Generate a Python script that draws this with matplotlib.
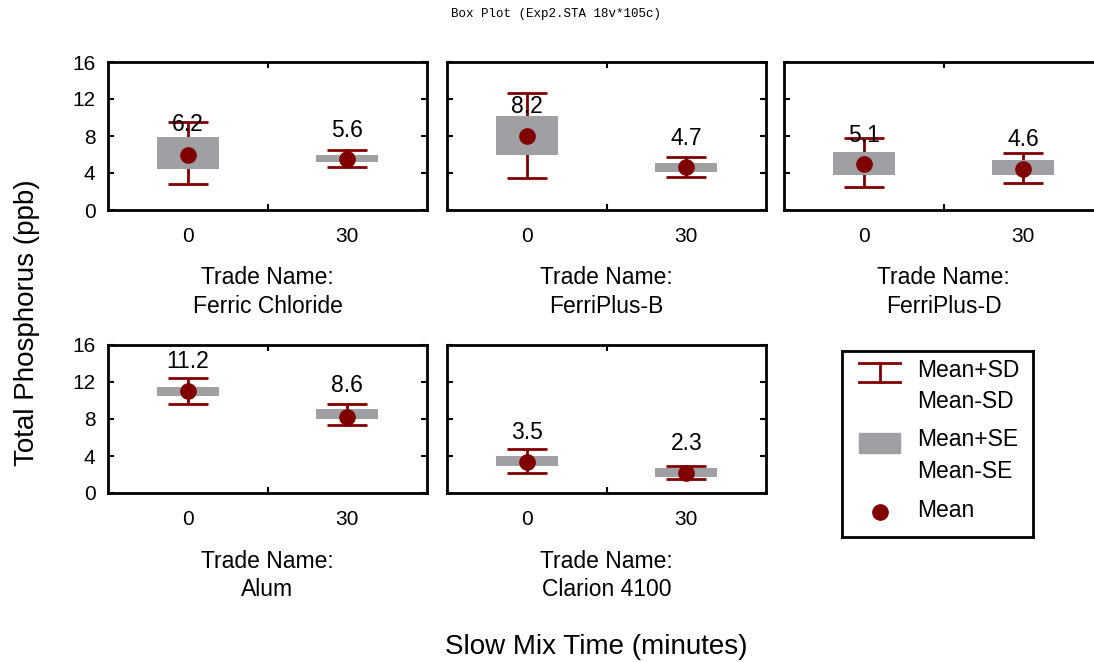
import matplotlib
matplotlib.use('Agg')
import matplotlib.pyplot as plt
from matplotlib.patches import Rectangle
from matplotlib.lines import Line2D

plt.rcParams['font.family'] = ['Liberation Sans', 'DejaVu Sans']

## data: one entry per trade name, [0 min, 30 min]
trade_names = ['Ferric Chloride', 'FerriPlus-B', 'FerriPlus-D', 'Alum', 'Clarion 4100']
mix_times = ['0', '30']
mean = [[6.0, 5.5], [8.0, 4.6], [4.95, 4.4], [11.0, 8.2], [3.3, 2.2]]
se_lo = [[4.4, 5.15], [6.0, 4.1], [3.75, 3.75], [10.45, 7.95], [2.9, 1.75]]
se_hi = [[7.85, 5.95], [10.15, 5.1], [6.25, 5.4], [11.5, 9.05], [4.0, 2.65]]
sd_lo = [[2.8, 4.6], [3.5, 3.55], [2.5, 2.9], [9.65, 7.35], [2.15, 1.55]]
sd_hi = [[9.55, 6.5], [12.7, 5.75], [7.75, 6.15], [12.45, 9.6], [4.8, 2.9]]
value_labels = [[6.2, 5.6], [8.2, 4.7], [5.1, 4.6], [11.2, 8.6], [3.5, 2.3]]
y_ticks = [0, 4, 8, 12, 16]

red = '#800000'
grey = '#a0a0a4'

W, H = 1094, 662
fig = plt.figure(figsize=(W / 100, H / 100), dpi=100)

# panel positions in pixels (left, top); only the first column gets y labels
panel_px = [(108, 62), (447, 62), (784, 62), (108, 345), (447, 345)]
first_col = [True, False, False, True, False]
pw, ph = 319, 148

for i, name in enumerate(trade_names):
    left, top = panel_px[i]
    ax = fig.add_axes([left / W, 1 - (top + ph) / H, pw / W, ph / H])
    xs = range(len(mix_times))
    m = mean[i]
    yerr = [[m[j] - sd_lo[i][j] for j in xs], [sd_hi[i][j] - m[j] for j in xs]]
    ax.errorbar(xs, m, yerr=yerr, fmt='none', ecolor=red, elinewidth=2,
                capsize=14.4, capthick=2, zorder=1)
    ax.bar(xs, [se_hi[i][j] - se_lo[i][j] for j in xs], bottom=se_lo[i],
           width=0.39, color=grey, zorder=2)
    ax.plot(xs, m, 'o', color=red, markersize=11, zorder=3)
    for j in xs:
        ax.text(j, value_labels[i][j] + 3, '%.1f' % value_labels[i][j],
                ha='center', va='center', fontsize=16.5, zorder=4)
    ax.set_xlim(-0.5, 1.5)
    ax.set_ylim(0, 16)
    ax.set_yticks(y_ticks)
    ax.set_xticks(list(xs))
    ax.set_xticklabels(mix_times)
    ax.set_xticks([0.5], minor=True)
    ax.tick_params(axis='x', which='major', length=0, pad=12, labelsize=15)
    ax.tick_params(axis='x', which='minor', direction='in', length=4, width=1.5,
                   top=True, bottom=True)
    ax.tick_params(axis='y', direction='in', length=4, width=1.5, left=True,
                   right=True, pad=9, labelsize=15, labelleft=first_col[i])
    for s in ax.spines.values():
        s.set_linewidth(2)
    ax.set_xlabel('Trade Name:\n' + name, fontsize=16.5, labelpad=15,
                  linespacing=1.3)

# legend panel
lg = fig.add_axes([842 / W, 1 - 537 / H, 191 / W, 186 / H])
lg.set_xlim(0, 1)
lg.set_ylim(0, 1)
lg.set_xticks([])
lg.set_yticks([])
for s in lg.spines.values():
    s.set_linewidth(2)
lg.add_line(Line2D([0.089, 0.304], [0.934, 0.934], color=red, lw=2))
lg.add_line(Line2D([0.089, 0.304], [0.835, 0.835], color=red, lw=2))
lg.add_line(Line2D([0.199, 0.199], [0.835, 0.934], color=red, lw=2))
lg.add_patch(Rectangle((0.089, 0.453), 0.215, 0.108, color=grey))
lg.plot([0.199], [0.133], 'o', color=red, markersize=11)
leg_texts = [('Mean+SD', 0.894), ('Mean-SD', 0.727), ('Mean+SE', 0.522),
             ('Mean-SE', 0.351), ('Mean', 0.141)]
for t, yy in leg_texts:
    lg.text(0.393, yy, t, ha='left', va='center', fontsize=16.5)

fig.text(556 / W, 1 - 14 / H, 'Box Plot (Exp2.STA 18v*105c)',
         family='Liberation Mono', fontsize=9, ha='center', va='center')
fig.text(27 / W, 1 - 323 / H, 'Total Phosphorus (ppb)', rotation=90,
         fontsize=20, ha='center', va='center')
fig.text(596 / W, 1 - 647 / H, 'Slow Mix Time (minutes)', fontsize=20,
         ha='center', va='center')

fig.savefig('out.png', dpi=100)
